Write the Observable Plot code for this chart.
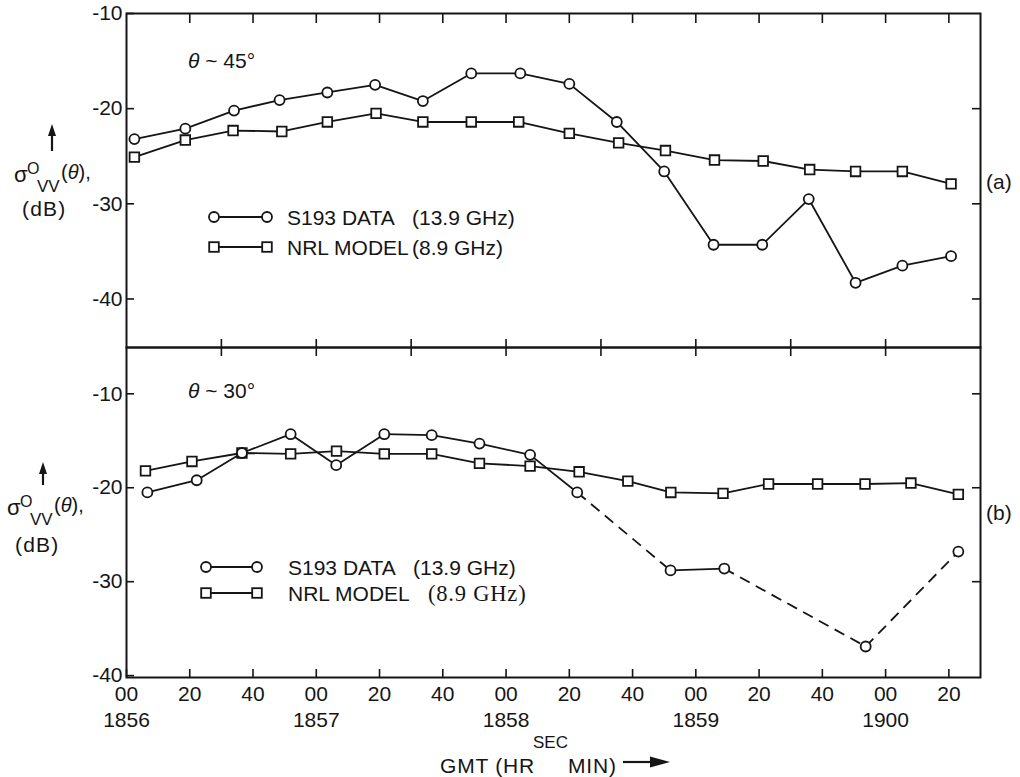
<!DOCTYPE html>
<html><head><meta charset="utf-8">
<script src="https://cdn.jsdelivr.net/npm/d3@7"></script>
<script src="https://cdn.jsdelivr.net/npm/@observablehq/plot@0.6"></script>
<style>
body{margin:0;background:#fff;}
#wrap{position:relative;width:1020px;height:777px;overflow:hidden;background:#fff;}
#wrap svg{position:absolute;left:0;overflow:visible;}
</style></head><body><div id="wrap"></div>
<script>
// ---------- data (time in seconds after 18:56:00 GMT, values in dB) ----------
const xDomain = [0, 270];
const tickSeconds = [0,20,40,60,80,100,120,140,160,180,200,220,240,260];
const tickLabels  = ["00","20","40","00","20","40","00","20","40","00","20","40","00","20"];
const minuteSeconds = [0,60,120,180,240];
const minuteNames   = ["1856","1857","1858","1859","1900"];
const crossTickSeconds = [30,60,90,120,150,180,210,240];
const topYTicks = [-10,-20,-30,-40];
const topRightTicks = [-20,-30,-40];
const botYTicks = [-10,-20,-30,-40];
const botRightTicks = [-10,-20,-30];

// (a) theta ~ 45 deg
const topS193Time = [2.5,18.6,34,48.4,63.5,78.6,93.7,109,124.5,140,155,170,185.6,201,215.7,230.5,245.3,260.7];
const topS193     = [-23.2,-22.1,-20.2,-19.1,-18.3,-17.5,-19.2,-16.3,-16.3,-17.4,-21.4,-26.6,-34.3,-34.3,-29.5,-38.3,-36.5,-35.5];
const topNRLTime  = [2.5,18.6,33.7,49.1,63.5,78.9,93.7,109,124,140,155.6,170.4,185.9,201.3,216,230.5,245.3,260.7];
const topNRL      = [-25.1,-23.3,-22.3,-22.4,-21.4,-20.5,-21.4,-21.4,-21.4,-22.6,-23.6,-24.4,-25.4,-25.5,-26.4,-26.6,-26.6,-27.9];

// (b) theta ~ 30 deg
const botS193Time = [6.6,22.2,36.5,51.9,66.3,81.5,96.5,111.6,127.6,142.5,172,189,233.7,263];
const botS193     = [-20.5,-19.2,-16.3,-14.3,-17.6,-14.3,-14.4,-15.3,-16.5,-20.5,-28.8,-28.6,-36.9,-26.8];
const botS193Dashed = [false,false,false,false,false,false,false,false,false,true,false,true,true]; // segment i -> i+1
const botNRLTime  = [6.0,20.7,36.5,51.9,66.4,81.5,96.5,111.6,127.6,143.1,158.5,172.1,188.6,203,218.5,233.5,248,263];
const botNRL      = [-18.2,-17.2,-16.3,-16.4,-16.1,-16.4,-16.4,-17.4,-17.7,-18.3,-19.3,-20.5,-20.6,-19.6,-19.6,-19.6,-19.5,-20.7];

// ---------- build tables ----------
const toRows = (ts, vs) => ts.map((t, i) => ({t, v: vs[i]}));
const topS193Rows = toRows(topS193Time, topS193);
const topNRLRows = toRows(topNRLTime, topNRL);
const botS193Rows = toRows(botS193Time, botS193);
const botNRLRows = toRows(botNRLTime, botNRL);
const botSegs = botS193Dashed.map((dashed, i) => ({
  t1: botS193Time[i], v1: botS193[i], t2: botS193Time[i+1], v2: botS193[i+1], dashed
}));

const INK = "#151515";
const FONT = "Liberation Sans, Arial, Helvetica, sans-serif";
const common = {
  width: 1020, marginLeft: 126, marginRight: 40,
  x: {domain: xDomain, axis: null},
  style: {fontFamily: FONT, fontSize: "21px", color: INK, background: "transparent", overflow: "visible"}
};
const lineStyle = {stroke: INK, strokeWidth: 1.8};
const circleStyle = {r: 5, stroke: INK, strokeWidth: 1.8, fill: "white"};
const squareStyle = {symbol: "square", r: 5.4, stroke: INK, strokeWidth: 1.8, fill: "white"};
const noText = () => "";

const topPlot = Plot.plot({
  ...common, height: 350, marginTop: 13, marginBottom: 3,
  y: {domain: [-45.1, -10], axis: null},
  marks: [
    Plot.frame({stroke: INK, strokeWidth: 2}),
    Plot.axisY({ticks: topYTicks, anchor: "left", tickSize: -8, tickPadding: 12, tickFormat: d => String(d), label: null, stroke: INK, strokeWidth: 1.6, fill: INK}),
    Plot.axisY({ticks: topRightTicks, anchor: "right", tickSize: -9, tickFormat: noText, label: null, stroke: INK, strokeWidth: 1.6}),
    Plot.axisX({ticks: tickSeconds.filter(d => d > 0), anchor: "top", tickSize: -9, tickFormat: noText, label: null, stroke: INK, strokeWidth: 1.6}),
    Plot.axisX({ticks: crossTickSeconds, anchor: "bottom", tickSize: -8, tickFormat: noText, label: null, stroke: INK, strokeWidth: 1.6}),
    Plot.line(topNRLRows, {x: "t", y: "v", ...lineStyle}),
    Plot.line(topS193Rows, {x: "t", y: "v", ...lineStyle}),
    Plot.dot(topNRLRows, {x: "t", y: "v", ...squareStyle}),
    Plot.dot(topS193Rows, {x: "t", y: "v", ...circleStyle})
  ]
});

const botPlot = Plot.plot({
  ...common, height: 433, marginTop: 3, marginBottom: 100,
  y: {domain: [-40.2, -5.07], axis: null},
  marks: [
    Plot.frame({stroke: INK, strokeWidth: 2}),
    Plot.axisY({ticks: botYTicks, anchor: "left", tickSize: -8, tickPadding: 12, tickFormat: d => String(d), label: null, stroke: INK, strokeWidth: 1.6, fill: INK}),
    Plot.axisY({ticks: botRightTicks, anchor: "right", tickSize: -9, tickFormat: noText, label: null, stroke: INK, strokeWidth: 1.6}),
    Plot.axisX({ticks: crossTickSeconds, anchor: "top", tickSize: -8, tickFormat: noText, label: null, stroke: INK, strokeWidth: 1.6}),
    Plot.axisX({
      ticks: tickSeconds, anchor: "bottom", tickSize: -8, tickPadding: 14, label: null,
      lineHeight: 1.2, stroke: INK, strokeWidth: 1.6, fill: INK,
      tickFormat: d => {
        const i = tickSeconds.indexOf(d), m = minuteSeconds.indexOf(d);
        return m >= 0 ? tickLabels[i] + "\n" + minuteNames[m] : tickLabels[i];
      }
    }),
    Plot.line(botNRLRows, {x: "t", y: "v", ...lineStyle}),
    Plot.link(botSegs.filter(s => !s.dashed), {x1: "t1", y1: "v1", x2: "t2", y2: "v2", ...lineStyle}),
    Plot.link(botSegs.filter(s => s.dashed), {x1: "t1", y1: "v1", x2: "t2", y2: "v2", ...lineStyle, strokeDasharray: "11,7"}),
    Plot.dot(botNRLRows, {x: "t", y: "v", ...squareStyle}),
    Plot.dot(botS193Rows, {x: "t", y: "v", ...circleStyle})
  ]
});

const wrap = document.getElementById("wrap");
topPlot.style.top = "0px";
botPlot.style.top = "344px";
wrap.appendChild(topPlot);
wrap.appendChild(botPlot);

// ---------- annotations (titles, legends, labels) ----------
const ov = d3.create("svg").attr("width", 1020).attr("height", 777)
  .style("top", "0px").style("pointer-events", "none")
  .attr("font-family", FONT).attr("fill", INK);

function txt(x, y, s, size = 21, extra = {}) {
  const t = ov.append("text").attr("x", x).attr("y", y).attr("font-size", size).text(s)
    .attr("letter-spacing", extra.ls ?? 0.3);
  if (extra.family) t.attr("font-family", extra.family);
  if (extra.style) t.attr("font-style", extra.style);
  return t;
}
function upArrow(x, y0, y1) {
  ov.append("line").attr("x1", x).attr("x2", x).attr("y1", y0 + 8).attr("y2", y1).attr("stroke", INK).attr("stroke-width", 2.2);
  ov.append("path").attr("d", `M${x},${y0} L${x-4},${y0+12} L${x+4},${y0+12} Z`).attr("fill", INK);
}
function yTitle(x, y) { // x,y = sigma baseline
  txt(x, y, "σ", 22, {ls: 0});
  txt(x + 13, y - 8, "O", 16, {ls: 0});
  txt(x + 23, y + 10, "VV", 17, {ls: 0});
  const t = ov.append("text").attr("x", x + 47).attr("y", y - 3).attr("font-size", 20);
  t.append("tspan").text("(");
  t.append("tspan").attr("font-style", "italic").text("θ");
  t.append("tspan").text("),");
}
function legend(xs, y1, y2, xText, xParen1, xParen2, serif2) {
  const [a, b] = xs;
  ov.append("line").attr("x1", a).attr("x2", b).attr("y1", y1).attr("y2", y1).attr("stroke", INK).attr("stroke-width", 1.8);
  ov.append("line").attr("x1", a).attr("x2", b).attr("y1", y2).attr("y2", y2).attr("stroke", INK).attr("stroke-width", 1.8);
  for (const x of xs) {
    ov.append("circle").attr("cx", x).attr("cy", y1).attr("r", 5).attr("fill", "white").attr("stroke", INK).attr("stroke-width", 1.8);
    ov.append("rect").attr("x", x - 4.8).attr("y", y2 - 4.8).attr("width", 9.6).attr("height", 9.6).attr("fill", "white").attr("stroke", INK).attr("stroke-width", 1.8);
  }
  txt(xText, y1 + 8, "S193 DATA", 21, {ls: 0});
  txt(xParen1, y1 + 8, "(13.9 GHz)", 21, {ls: 0});
  txt(xText, y2 + 8, "NRL MODEL", 21, {ls: 0});
  if (serif2) txt(xParen2, y2 + 8, "(8.9 GHz)", 22.5, {family: "Liberation Serif, Times New Roman, serif", ls: 0.8});
  else txt(xParen2, y2 + 8, "(8.9 GHz)", 21, {ls: 0});
}

// panel (a)
const ta = ov.append("text").attr("x", 188).attr("y", 68).attr("font-size", 21);
ta.append("tspan").attr("font-style", "italic").text("θ");
ta.append("tspan").text(" ~ 45°");
upArrow(52, 124, 151);
yTitle(14, 182);
txt(22, 216, "(dB)", 21, {ls: 1.2});
txt(986, 189, "(a)", 21, {ls: 0});
legend([214, 267], 217, 247, 287, 412, 412, false);

// panel (b)
const tb = ov.append("text").attr("x", 188).attr("y", 398).attr("font-size", 21);
tb.append("tspan").attr("font-style", "italic").text("θ");
tb.append("tspan").text(" ~ 30°");
upArrow(43, 462, 485);
yTitle(7, 515);
txt(15, 552, "(dB)", 21, {ls: 1.2});
txt(986, 520, "(b)", 21, {ls: 0});
legend([206, 257], 567, 593, 288, 413, 428, true);

// x-axis title
txt(440, 773, "GMT (HR", 21, {ls: 0.8});
txt(533, 748, "SEC", 17, {ls: 0});
txt(568, 773, "MIN)", 21, {ls: 0.8});
ov.append("line").attr("x1", 623).attr("x2", 655).attr("y1", 762).attr("y2", 762).attr("stroke", INK).attr("stroke-width", 2.2);
ov.append("path").attr("d", "M670,762 L650,756.5 L650,767.5 Z").attr("fill", INK);

wrap.appendChild(ov.node());
</script></body></html>
